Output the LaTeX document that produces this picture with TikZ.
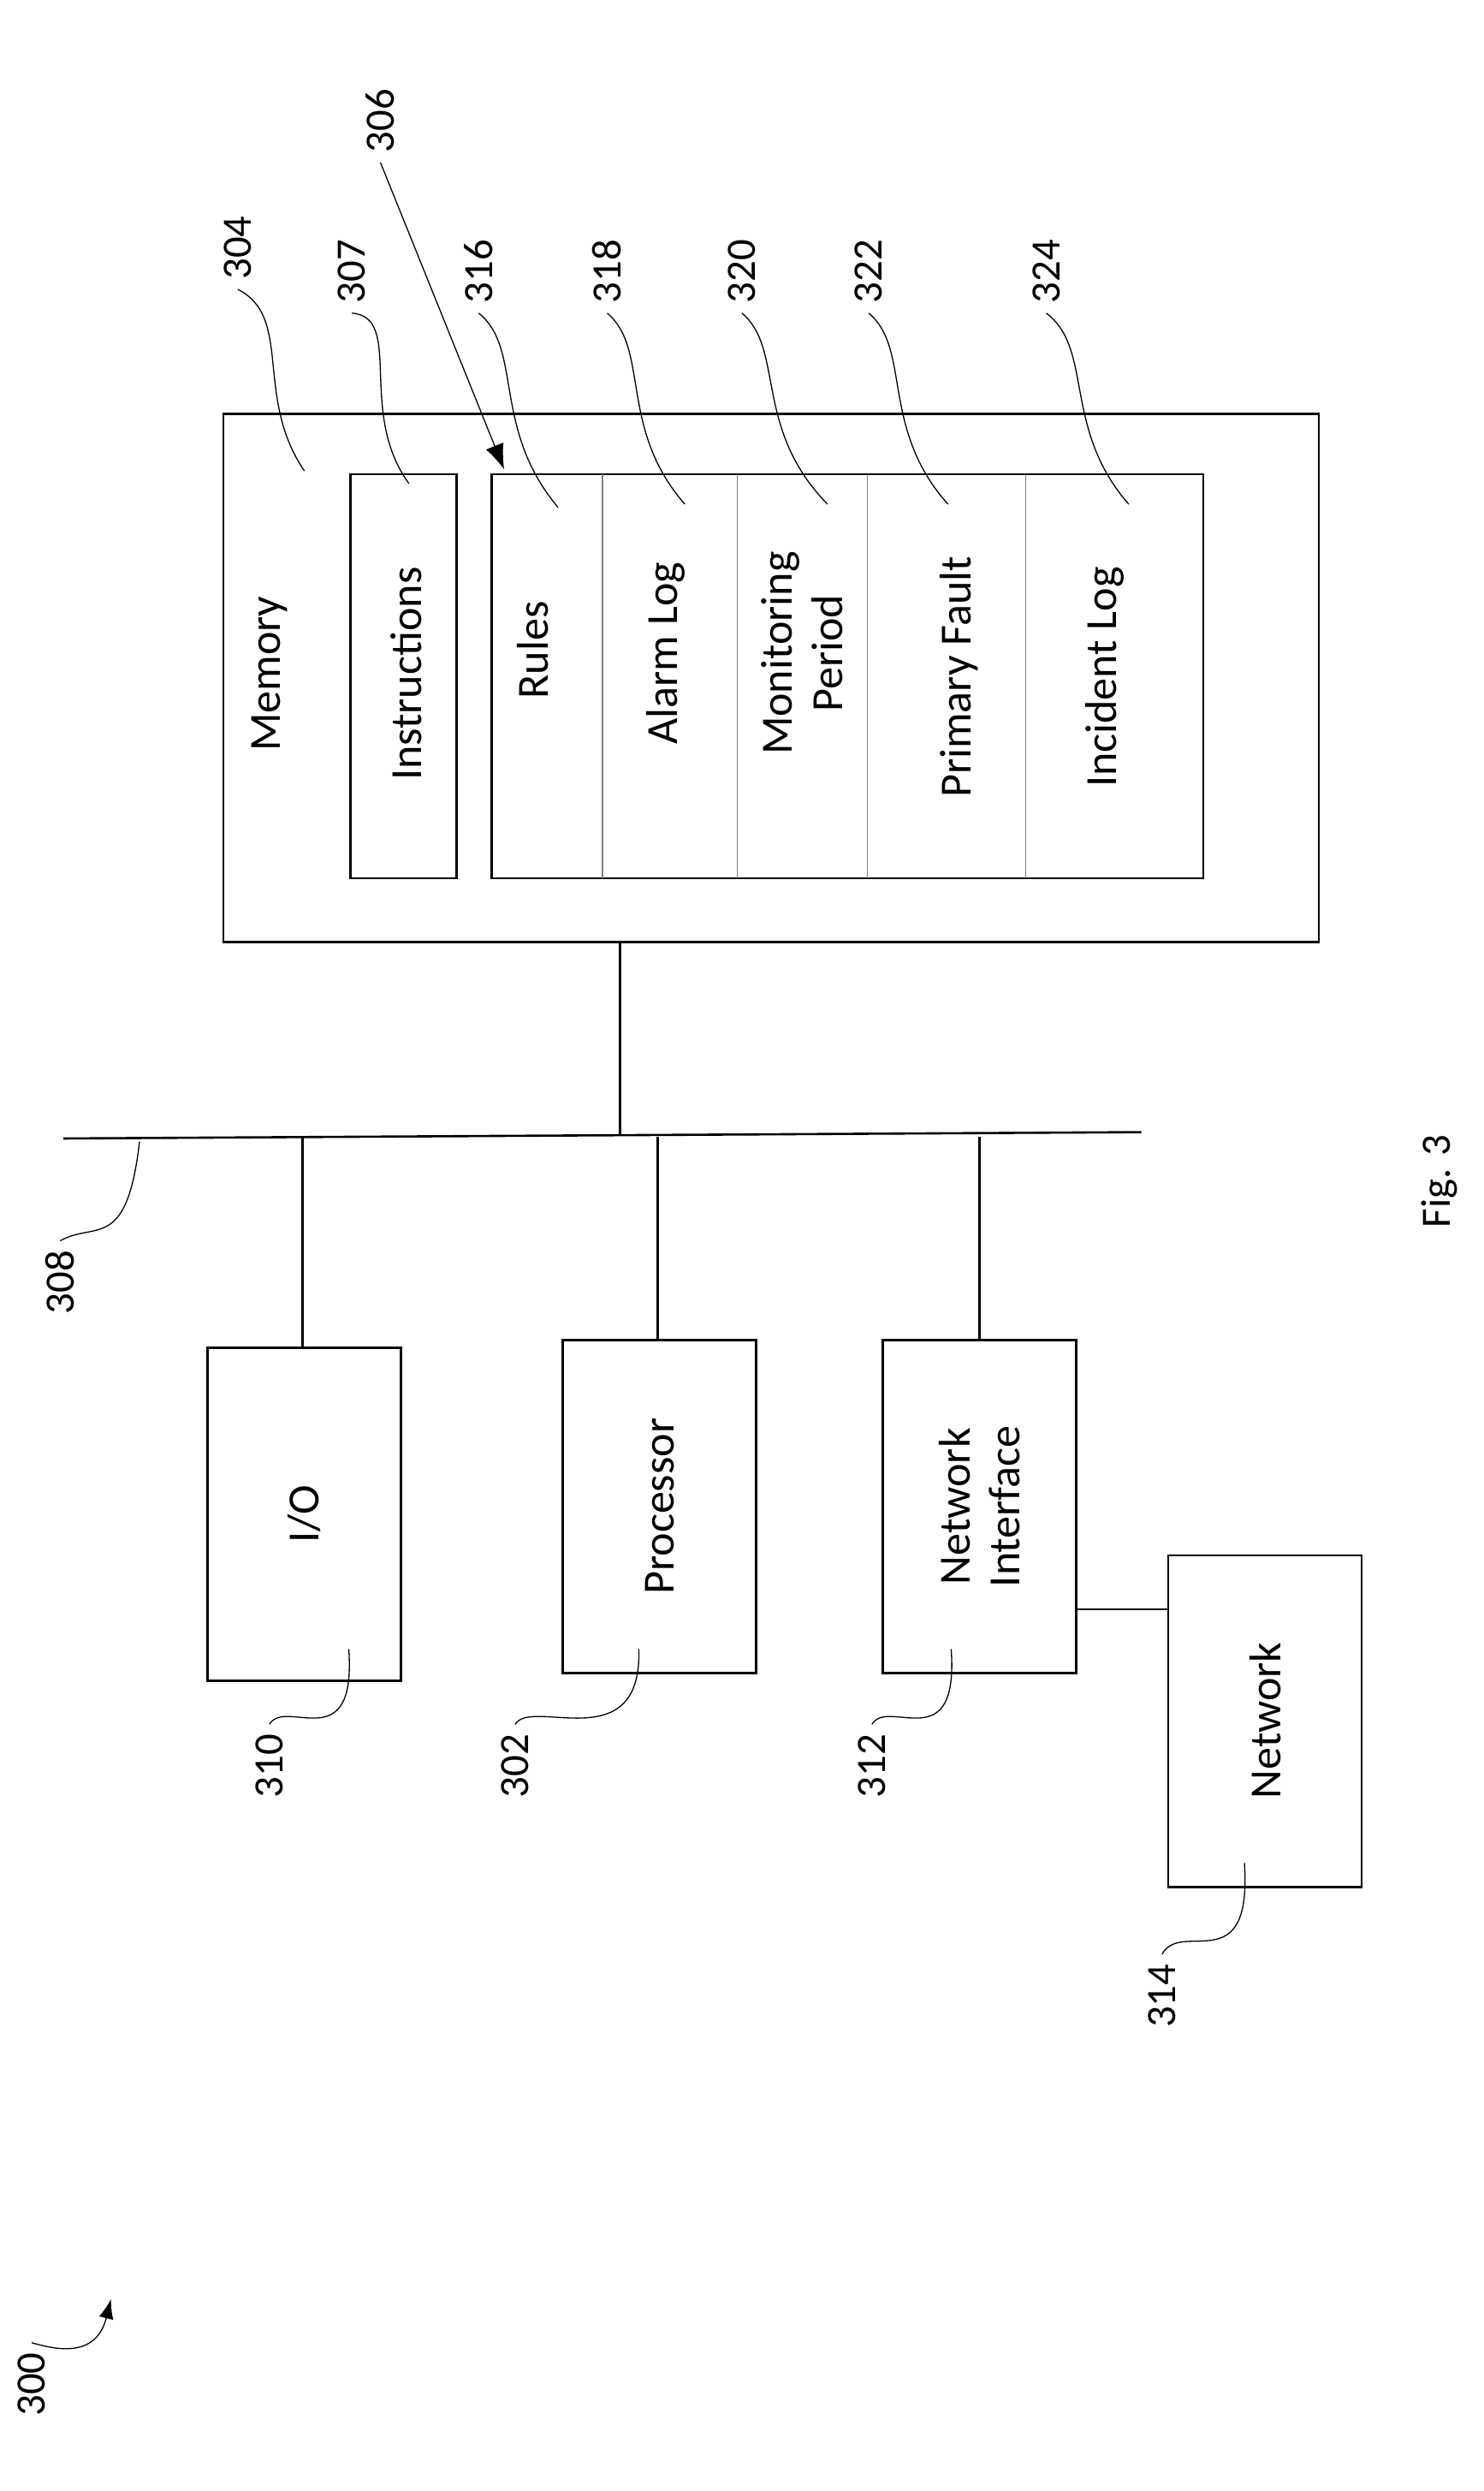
\documentclass[tikz,border=0pt]{standalone}
\usepackage{fontspec}
\setmainfont{Carlito}
\usetikzlibrary{arrows.meta}
\begin{document}
\begin{tikzpicture}[
        x=0.02cm, y=-0.02cm,
        box/.style = {draw, thick},
        txt/.style = {rotate=90, font=\fontsize{16}{18}\selectfont, align=center},
        num/.style = {rotate=90, font=\fontsize{15}{17}\selectfont},
        lead/.style = {thin}
    ]
    \useasboundingbox (0,0) rectangle (936,1571);
    % memory block
    \draw[box] (141,261) rectangle (832,594);
    \node[txt] (memory) at (170,425) {Memory};
    \draw[box] (221,299) rectangle (288,554);
    \node[txt] (instr) at (256,425) {Instructions};
    \draw[box] (310,299) rectangle (759,554);
    \foreach \x in {380,465,547,647} {
        \draw[gray, thin] (\x,299) -- (\x,554);
    }
    \node[txt] (rules) at (336,410) {Rules};
    \node[txt] (alarm) at (420,412) {Alarm Log};
    \node[txt] (period) at (506,412) {Monitoring\\Period};
    \node[txt] (fault) at (605,427) {Primary Fault};
    \node[txt] (incident) at (697,427) {Incident Log};

    % bus
    \coordinate (busL) at (40,718);
    \coordinate (busR) at (720,714);
    \draw[thick] (busL) -- (busR);
    \coordinate (m1) at (391,594);
    \coordinate (m2) at (391,716);
    \draw[thick] (m1) -- (m2);

    % lower boxes
    \draw[box] (131,850) rectangle (253,1060);
    \node[txt] (io) at (192,955) {I/O};
    \draw[box] (355,845) rectangle (477,1055);
    \node[txt] (proc) at (416,950) {Processor};
    \draw[box] (557,845) rectangle (679,1055);
    \node[txt] (nif) at (618,950) {Network\\Interface};
    \draw[box] (737,981) rectangle (859,1190);
    \node[txt] (net) at (798,1085) {Network};
    \foreach \x/\t in {191/850,415/845,618/845} {
        \draw[thick] (\x,717) -- (\x,\t);
    }
    \coordinate (n1) at (679,1015);
    \coordinate (n2) at (737,1015);
    \draw[thick] (n1) -- (n2);

    \node[rotate=90, font=\fontsize{15}{17}\selectfont] (fig) at (908,745) {Fig. 3};

    % reference numerals
    \node[num, anchor=east] (l304) at (150,130) {304};
    \draw[lead] (l304.west) .. controls (185,200) and (160,250) .. (192,297);
    \node[num, anchor=east] (l307) at (222,145) {307};
    \draw[lead] (l307.west) .. controls (255,200) and (225,260) .. (258,305);
    \node[num, anchor=east] (l316) at (302,145) {316};
    \draw[lead] (l316.west) .. controls (330,220) and (310,270) .. (352,320);
    \node[num, anchor=east] (l318) at (383,145) {318};
    \draw[lead] (l318.west) .. controls (410,220) and (390,270) .. (432,318);
    \node[num, anchor=east] (l320) at (468,145) {320};
    \draw[lead] (l320.west) .. controls (495,220) and (475,270) .. (522,318);
    \node[num, anchor=east] (l322) at (548,145) {322};
    \draw[lead] (l322.west) .. controls (575,220) and (555,270) .. (598,318);
    \node[num, anchor=east] (l324) at (660,145) {324};
    \draw[lead] (l324.west) .. controls (690,220) and (670,270) .. (712,318);
    \node[num, anchor=east] (l306) at (240,50) {306};
    \draw[thin, -{Latex[length=9pt]}] (l306.west) -- (318,296);

    \node[num, anchor=west] (l308) at (38,835) {308};
    \draw[lead] (l308.east) .. controls (60,770) and (80,790) .. (88,720);
    \node[num, anchor=west] (l310) at (170,1140) {310};
    \draw[lead] (l310.east) .. controls (180,1070) and (225,1110) .. (220,1040);
    \node[num, anchor=west] (l302) at (325,1140) {302};
    \draw[lead] (l302.east) .. controls (335,1070) and (405,1110) .. (403,1040);
    \node[num, anchor=west] (l312) at (550,1140) {312};
    \draw[lead] (l312.east) .. controls (560,1070) and (605,1110) .. (600,1040);
    \node[num, anchor=west] (l314) at (733,1285) {314};
    \draw[lead] (l314.east) .. controls (745,1210) and (790,1250) .. (785,1175);
    \node[num, anchor=west] (l300) at (20,1530) {300};
    \draw[thin, -{Latex[length=7pt]}] (l300.east) .. controls (30,1480) and (60,1490) .. (70,1450);
\end{tikzpicture}
\end{document}
